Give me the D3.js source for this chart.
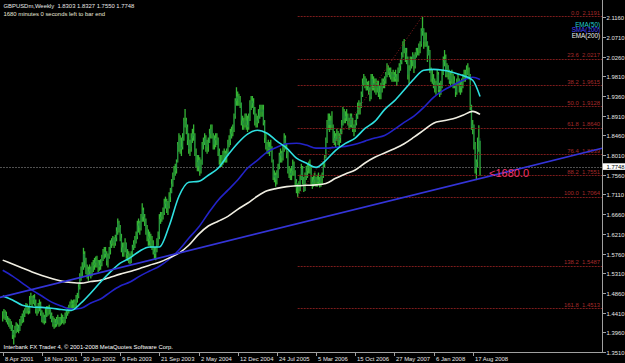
<!DOCTYPE html>
<html><head><meta charset="utf-8">
<script src="https://cdn.jsdelivr.net/npm/d3@7"></script>
<style>
html,body{margin:0;padding:0;background:#000;}
svg{display:block;}
text{font-family:"Liberation Sans",Arial,sans-serif;white-space:pre;}
</style></head><body>
<svg id="c" width="625" height="363"></svg>
<script>
// ---- DATA ----
const symbolTitle = "GBPUSDm,Weekly  1.8303 1.8327 1.7550 1.7748";
const timerText = "1680 minutes 0 seconds left to bar end";
const copyright = "Interbank FX Trader 4, \u00a9 2001-2008 MetaQuotes Software Corp.";
const firstWeek = "2001-04-08"; // weekly bars, one per week
const highs = [
1.443,1.448,1.445,1.442,1.432,1.428,1.425,1.420,1.412,1.400,1.410,1.418,1.415,
1.412,1.425,1.432,1.438,1.445,1.450,1.462,1.460,1.455,1.478,1.485,1.478,1.480,
1.482,1.470,1.455,1.462,1.470,1.465,1.445,1.440,1.435,1.450,1.455,1.455,1.458,
1.448,1.440,1.432,1.428,1.425,1.430,1.435,1.430,1.430,1.438,1.435,1.430,1.440,
1.445,1.452,1.458,1.465,1.470,1.468,1.470,1.470,1.480,1.485,1.505,1.530,1.545,
1.555,1.588,1.580,1.565,1.550,1.545,1.550,1.545,1.555,1.560,1.565,1.568,1.570,
1.560,1.560,1.562,1.572,1.585,1.590,1.590,1.580,1.575,1.590,1.605,1.610,1.615,
1.612,1.618,1.635,1.655,1.650,1.640,1.620,1.600,1.600,1.610,1.600,1.585,1.580,
1.575,1.580,1.595,1.605,1.615,1.625,1.650,1.655,1.650,1.665,1.690,1.680,1.665,
1.655,1.640,1.630,1.625,1.620,1.615,1.605,1.590,1.590,1.610,1.625,1.665,1.670,
1.670,1.680,1.700,1.705,1.700,1.695,1.715,1.725,1.745,1.760,1.775,1.780,1.790,
1.830,1.850,1.845,1.840,1.850,1.885,1.905,1.885,1.870,1.850,1.835,1.850,1.860,
1.870,1.850,1.815,1.800,1.800,1.795,1.790,1.830,1.840,1.850,1.845,1.835,1.840,
1.860,1.870,1.870,1.850,1.845,1.850,1.850,1.840,1.815,1.800,1.800,1.810,1.815,
1.810,1.815,1.835,1.845,1.860,1.865,1.870,1.895,1.930,1.955,1.945,1.940,1.935,
1.920,1.890,1.885,1.895,1.895,1.890,1.895,1.925,1.935,1.935,1.930,1.910,1.895,
1.890,1.905,1.915,1.915,1.915,1.915,1.880,1.850,1.830,1.835,1.830,1.835,1.820,
1.790,1.765,1.760,1.765,1.780,1.805,1.815,1.810,1.825,1.850,1.845,1.825,1.810,
1.775,1.770,1.775,1.790,1.785,1.765,1.745,1.735,1.740,1.755,1.780,1.775,1.750,
1.760,1.775,1.780,1.785,1.790,1.775,1.750,1.755,1.760,1.750,1.755,1.760,1.750,
1.755,1.760,1.785,1.800,1.840,1.880,1.895,1.895,1.890,1.900,1.870,1.855,1.850,
1.860,1.855,1.850,1.860,1.880,1.910,1.905,1.900,1.905,1.895,1.885,1.895,1.895,
1.885,1.870,1.880,1.895,1.920,1.925,1.920,1.945,1.975,1.985,1.980,1.975,1.968,
1.970,1.955,1.985,1.985,1.980,1.975,1.975,1.970,1.970,1.960,1.965,1.975,1.975,
1.980,1.990,2.010,2.005,2.000,2.000,1.990,1.995,1.990,1.995,1.985,2.000,2.010,
2.020,2.035,2.060,2.065,2.045,2.045,2.025,2.005,2.025,2.025,2.035,2.030,2.035,
2.045,2.045,2.055,2.060,2.090,2.116,2.090,2.080,2.080,2.060,2.050,2.040,2.000,
1.995,1.985,1.975,1.970,1.995,1.990,1.965,1.970,1.995,2.025,2.040,2.030,2.010,
2.005,1.995,1.990,1.995,1.985,1.980,1.965,1.975,1.985,1.975,1.970,1.975,1.985,
1.995,1.995,2.005,2.010,2.000,1.985,1.915,1.880,1.870,1.830,1.790,1.840,1.868,
1.8327];
const lows = [
1.422,1.428,1.425,1.420,1.415,1.410,1.405,1.400,1.382,1.369,1.385,1.395,1.398,
1.395,1.400,1.412,1.418,1.420,1.432,1.440,1.440,1.438,1.440,1.460,1.455,1.462,
1.458,1.440,1.435,1.440,1.445,1.435,1.420,1.418,1.415,1.418,1.432,1.435,1.438,
1.428,1.420,1.410,1.405,1.408,1.410,1.415,1.410,1.412,1.415,1.418,1.415,1.418,
1.428,1.435,1.440,1.445,1.450,1.450,1.452,1.450,1.455,1.465,1.475,1.495,1.515,
1.525,1.540,1.545,1.530,1.520,1.515,1.525,1.520,1.525,1.535,1.540,1.545,1.545,
1.535,1.538,1.540,1.548,1.560,1.565,1.568,1.550,1.545,1.565,1.575,1.590,1.595,
1.590,1.595,1.605,1.620,1.625,1.605,1.580,1.570,1.570,1.580,1.565,1.560,1.555,
1.553,1.555,1.570,1.585,1.590,1.600,1.610,1.625,1.620,1.630,1.650,1.650,1.640,
1.620,1.605,1.595,1.595,1.590,1.585,1.575,1.565,1.562,1.580,1.595,1.610,1.645,
1.650,1.655,1.665,1.680,1.670,1.665,1.680,1.695,1.715,1.730,1.745,1.755,1.760,
1.785,1.810,1.805,1.800,1.815,1.835,1.865,1.850,1.825,1.805,1.800,1.810,1.830,
1.835,1.800,1.775,1.765,1.765,1.755,1.760,1.780,1.815,1.825,1.810,1.805,1.810,
1.830,1.840,1.840,1.815,1.815,1.820,1.825,1.800,1.780,1.775,1.775,1.780,1.785,
1.785,1.785,1.800,1.820,1.825,1.840,1.845,1.855,1.885,1.915,1.915,1.915,1.910,
1.870,1.860,1.860,1.865,1.860,1.855,1.860,1.880,1.905,1.910,1.895,1.870,1.865,
1.865,1.875,1.885,1.890,1.890,1.870,1.830,1.815,1.805,1.805,1.800,1.810,1.785,
1.745,1.740,1.730,1.735,1.750,1.770,1.785,1.785,1.790,1.810,1.815,1.795,1.760,
1.750,1.745,1.745,1.755,1.755,1.730,1.715,1.706,1.715,1.720,1.745,1.735,1.718,
1.720,1.745,1.750,1.760,1.760,1.735,1.725,1.730,1.735,1.730,1.730,1.735,1.728,
1.730,1.735,1.750,1.775,1.795,1.830,1.860,1.855,1.860,1.860,1.830,1.825,1.820,
1.835,1.825,1.820,1.830,1.850,1.870,1.875,1.875,1.880,1.870,1.860,1.865,1.865,
1.855,1.845,1.855,1.870,1.885,1.895,1.895,1.910,1.935,1.960,1.955,1.950,1.950,
1.940,1.925,1.930,1.950,1.950,1.945,1.940,1.945,1.935,1.930,1.930,1.945,1.955,
1.955,1.965,1.980,1.985,1.980,1.975,1.970,1.970,1.970,1.970,1.960,1.970,1.990,
1.995,2.010,2.025,2.035,2.015,2.010,1.975,1.965,1.995,2.000,2.005,1.990,2.000,
2.025,2.030,2.030,2.035,2.050,2.075,2.045,2.050,2.050,2.015,2.030,1.990,1.970,
1.965,1.955,1.945,1.940,1.960,1.945,1.935,1.940,1.955,1.985,2.005,1.980,1.980,
1.975,1.965,1.960,1.965,1.955,1.955,1.935,1.940,1.960,1.945,1.940,1.945,1.955,
1.970,1.970,1.980,1.985,1.975,1.905,1.860,1.850,1.815,1.760,1.745,1.775,1.810,
1.755];
const closes = [
1.437,1.440,1.432,1.425,1.420,1.418,1.412,1.407,1.390,1.395,1.402,1.410,1.405,
1.402,1.420,1.425,1.430,1.440,1.445,1.455,1.450,1.445,1.470,1.475,1.470,1.475,
1.462,1.448,1.445,1.455,1.460,1.440,1.425,1.430,1.422,1.440,1.440,1.450,1.448,
1.435,1.425,1.415,1.418,1.415,1.425,1.428,1.418,1.425,1.425,1.428,1.425,1.435,
1.440,1.448,1.452,1.458,1.462,1.460,1.462,1.465,1.475,1.478,1.500,1.525,1.535,
1.545,1.575,1.560,1.540,1.530,1.535,1.540,1.530,1.548,1.550,1.555,1.560,1.555,
1.545,1.550,1.555,1.565,1.575,1.580,1.575,1.560,1.570,1.585,1.598,1.605,1.610,
1.600,1.612,1.628,1.645,1.635,1.612,1.590,1.578,1.590,1.600,1.575,1.572,1.565,
1.560,1.575,1.590,1.598,1.605,1.615,1.640,1.645,1.635,1.660,1.675,1.660,1.650,
1.630,1.615,1.610,1.605,1.600,1.595,1.580,1.575,1.585,1.600,1.615,1.655,1.660,
1.665,1.670,1.690,1.695,1.680,1.685,1.705,1.715,1.735,1.750,1.765,1.770,1.785,
1.825,1.835,1.815,1.820,1.840,1.880,1.880,1.865,1.835,1.815,1.820,1.840,1.850,
1.845,1.805,1.785,1.775,1.790,1.765,1.780,1.825,1.830,1.840,1.820,1.825,1.830,
1.850,1.860,1.845,1.825,1.835,1.840,1.835,1.810,1.790,1.790,1.785,1.800,1.805,
1.795,1.805,1.825,1.835,1.850,1.855,1.860,1.890,1.925,1.935,1.930,1.925,1.920,
1.880,1.870,1.875,1.880,1.870,1.865,1.885,1.915,1.925,1.920,1.905,1.880,1.875,
1.880,1.890,1.905,1.900,1.905,1.875,1.840,1.825,1.820,1.815,1.820,1.815,1.790,
1.750,1.755,1.745,1.755,1.775,1.800,1.805,1.795,1.815,1.840,1.820,1.805,1.765,
1.760,1.755,1.765,1.780,1.765,1.740,1.725,1.725,1.730,1.745,1.770,1.745,1.720,
1.750,1.765,1.775,1.775,1.770,1.740,1.735,1.745,1.750,1.740,1.745,1.740,1.738,
1.750,1.755,1.780,1.795,1.835,1.870,1.880,1.870,1.880,1.870,1.840,1.830,1.845,
1.845,1.835,1.840,1.855,1.870,1.900,1.885,1.890,1.890,1.875,1.870,1.890,1.870,
1.865,1.860,1.875,1.890,1.910,1.910,1.915,1.940,1.965,1.975,1.965,1.960,1.958,
1.950,1.935,1.975,1.960,1.965,1.955,1.955,1.960,1.945,1.940,1.955,1.965,1.970,
1.975,1.985,1.995,1.995,1.990,1.985,1.980,1.985,1.980,1.975,1.975,1.995,2.005,
2.015,2.030,2.050,2.045,2.035,2.020,1.985,1.995,2.015,2.015,2.030,2.005,2.030,
2.040,2.040,2.050,2.055,2.085,2.090,2.060,2.065,2.060,2.030,2.040,2.000,1.975,
1.975,1.965,1.955,1.965,1.985,1.950,1.955,1.955,1.985,2.015,2.020,1.985,2.005,
1.995,1.970,1.985,1.975,1.970,1.965,1.945,1.970,1.975,1.960,1.955,1.965,1.975,
1.985,1.980,1.995,1.995,1.985,1.910,1.865,1.870,1.825,1.770,1.785,1.815,1.840,
1.7748];
// moving-average readings, sampled at these bar numbers
const maBars = [0,8,16,24,32,40,48,56,64,72,80,88,96,104,112,120,128,136,144,152,160,168,176,184,192,200,208,216,224,232,240,248,256,264,272,280,288,296,304,312,320,328,336,344,352,360,368,376,384,390];
const ema50 = [1.479,1.470,1.458,1.454,1.453,1.451,1.448,1.446,1.463,1.486,1.511,1.534,1.554,1.566,1.582,1.591,1.591,1.639,1.707,1.739,1.741,1.755,1.771,1.801,1.828,1.849,1.858,1.851,1.833,1.817,1.794,1.783,1.773,1.789,1.812,1.828,1.840,1.862,1.878,1.905,1.925,1.950,1.975,1.995,1.997,1.995,1.990,1.983,1.972,1.935];
const sma100 = [1.538,1.5245,1.5085,1.4925,1.479,1.465,1.456,1.449,1.451,1.463,1.472,1.488,1.502,1.511,1.5245,1.536,1.547,1.563,1.584,1.611,1.636,1.668,1.698,1.721,1.744,1.771,1.789,1.808,1.819,1.827,1.828,1.824,1.817,1.817,1.819,1.821,1.826,1.833,1.840,1.846,1.860,1.876,1.890,1.910,1.933,1.949,1.961,1.972,1.979,1.974];
const ema200 = [1.561,1.552,1.543,1.534,1.526,1.519,1.513,1.510,1.5085,1.512,1.515,1.522,1.529,1.535,1.542,1.5495,1.556,1.566,1.577,1.595,1.620,1.639,1.650,1.661,1.677,1.691,1.707,1.7195,1.725,1.729,1.731,1.732,1.733,1.736,1.748,1.758,1.767,1.783,1.796,1.806,1.8156,1.827,1.842,1.858,1.874,1.8795,1.884,1.892,1.901,1.894];
const maNames = ["EMA(50)","SMA(100)","EMA(200)"];
const priceTicks = ["2.1160","2.0710","2.0260","1.9810","1.9360","1.8910","1.8460","1.8010","1.7560","1.7110","1.6660","1.6210","1.5760","1.5310","1.4860","1.4410","1.3960","1.3510"];
const dateTickBars = [0,32,64,96,128,160,192,224,256,288,320,352,384];
const dateLabels = ["8 Apr 2001","18 Nov 2001","30 Jun 2002","9 Feb 2003","21 Sep 2003","2 May 2004","12 Dec 2004","24 Jul 2005","5 Mar 2006","15 Oct 2006","27 May 2007","6 Jan 2008","17 Aug 2008"];
const fibPct = ["0.0","23.6","38.2","50.0","61.8","76.4","88.2","100.0","138.2","161.8"];
const fibPrice = ["2.1191","2.0217","1.9615","1.9128","1.8640","1.8039","1.7551","1.7064","1.5487","1.4513"];
const fibLowBar = 241, fibHighBar = 343;      // anchors of the fibo
const trendBars = [0,390], trendPrices = [1.4773,1.7477];
const lastPrice = "1.7748";
const pipNote = "<1680.0";

// ---- SCALES ----
const svg = d3.select("#c");
const t0 = new Date(firstWeek+"T00:00:00Z").getTime();
const dateOf = i => new Date(t0 + i*7*864e5);
const plotR = 602, plotB = 352;
const x = d3.scaleUtc().domain([dateOf(0), dateOf(384)]).range([2.7, 472.7]);
const y = d3.scaleLinear().domain([1.351, 2.116]).range([352, 17.3]);
const xb = i => x(dateOf(i));
const FS = 5.9;

svg.append("rect").attr("width",625).attr("height",363).attr("fill","#000");

// current price dotted line
svg.append("line").attr("x1",0).attr("x2",plotR).attr("y1",Math.round(y(+lastPrice))+0.5).attr("y2",Math.round(y(+lastPrice))+0.5)
  .attr("stroke","#505050").attr("stroke-width",1).attr("stroke-dasharray","2,1");

// bars
svg.append("g").selectAll("line").data(highs).join("line")
  .attr("x1",(d,i)=>xb(i)).attr("x2",(d,i)=>xb(i))
  .attr("y1",(d,i)=>y(lows[i])+0.5).attr("y2",d=>y(d)-0.5)
  .attr("stroke","#35b535").attr("stroke-width",1.3);
svg.append("g").selectAll("rect").data(closes).join("rect")
  .attr("x",(d,i)=>xb(i)-0.3).attr("width",0.6)
  .attr("y",(d,i)=>y(Math.max(d, i? closes[i-1]:d)))
  .attr("height",(d,i)=>Math.abs(y(d)-y(i?closes[i-1]:d)))
  .attr("fill","#13704f").attr("opacity",0.8);

// fibo
const fx0 = xb(fibLowBar);
const fg = svg.append("g");
fibPrice.forEach((p,k)=>{
  fg.append("line").attr("x1",fx0).attr("x2",plotR).attr("y1",Math.round(y(+p))+0.5).attr("y2",Math.round(y(+p))+0.5)
    .attr("stroke","#7c1c1c").attr("stroke-width",1).attr("stroke-dasharray","2,1");
  fg.append("text").attr("x",600).attr("y",y(+p)-1.3).attr("text-anchor","end")
    .attr("font-size",FS).attr("fill","#a52a2a").text(fibPct[k]+"  "+p);
});
fg.append("line").attr("x1",fx0).attr("y1",y(+fibPrice[7])).attr("x2",xb(fibHighBar)).attr("y2",y(+fibPrice[0]))
  .attr("stroke","#8c1e1e").attr("stroke-width",1).attr("stroke-dasharray","1,2");

// moving averages
const maLine = d3.line().x(d=>xb(d[0])).y(d=>y(d[1])).curve(d3.curveMonotoneX);
const maSets = [[sma100,"#2323c8"],[ema200,"#f0eee2"],[ema50,"#2fe0e0"]];
maSets.forEach(([arr,col])=>{
  svg.append("path").attr("d",maLine(maBars.map((b,k)=>[b,arr[k]])))
    .attr("fill","none").attr("stroke",col).attr("stroke-width",1.6);
});

// trend line (ray through two anchors, extended to the plot edges)
const tx1 = xb(trendBars[0]), tx2 = xb(trendBars[1]);
const ty1 = y(trendPrices[0]), ty2 = y(trendPrices[1]);
const sl = (ty2-ty1)/(tx2-tx1);
svg.append("line").attr("x1",0).attr("y1",ty1 - sl*tx1).attr("x2",plotR).attr("y2",ty1 + sl*(plotR-tx1))
  .attr("stroke","#3434d8").attr("stroke-width",1.7);

// pip note
svg.append("text").attr("x",489).attr("y",177.3).attr("font-size",11).attr("fill","#f2336b").text(pipNote);

// axes
const ax = svg.append("g").attr("stroke","#a0a0a0");
ax.append("line").attr("x1",plotR+0.5).attr("x2",plotR+0.5).attr("y1",0).attr("y2",plotB+1);
ax.append("line").attr("x1",0).attr("x2",plotR+1).attr("y1",plotB+0.5).attr("y2",plotB+0.5);
const pa = svg.append("g");
priceTicks.forEach(t=>{
  const yy = Math.round(y(+t))+0.5;
  pa.append("line").attr("x1",plotR+1).attr("x2",plotR+4).attr("y1",yy).attr("y2",yy).attr("stroke","#a0a0a0");
  pa.append("text").attr("x",606.5).attr("y",yy+2).attr("font-size",FS).attr("fill","#e6e6e6").text(t);
});
const da = svg.append("g");
dateTickBars.forEach((b,k)=>{
  const xx = Math.round(xb(b))+0.5;
  da.append("line").attr("x1",xx).attr("x2",xx).attr("y1",plotB+1).attr("y2",plotB+4).attr("stroke","#a0a0a0");
  da.append("text").attr("x",xx+1.5).attr("y",360.8).attr("font-size",FS).attr("fill","#e6e6e6").text(dateLabels[k]);
});

// current price label
const yl = y(+lastPrice);
svg.append("rect").attr("x",603).attr("y",yl-3.3).attr("width",22).attr("height",6.6).attr("fill","#ffffff");
svg.append("text").attr("x",606.5).attr("y",yl+2).attr("font-size",FS).attr("fill","#000").text(lastPrice);

// legend
const legCols = ["#22d0d0","#4646ff","#ececec"];
maNames.forEach((n,k)=>{
  svg.append("text").attr("x",600).attr("y",26.5+k*5.9).attr("text-anchor","end")
    .attr("font-size",6.3).attr("fill",legCols[k]).text(n);
});

// titles
svg.append("text").attr("x",3.5).attr("y",8).attr("font-size",FS).attr("fill","#e8e8e8").text(symbolTitle);
svg.append("text").attr("x",3.5).attr("y",15.6).attr("font-size",FS).attr("fill","#e8e8d8").text(timerText);
svg.append("text").attr("x",3.5).attr("y",349.3).attr("font-size",FS).attr("fill","#ffffff").text(copyright);
</script>
</body></html>
